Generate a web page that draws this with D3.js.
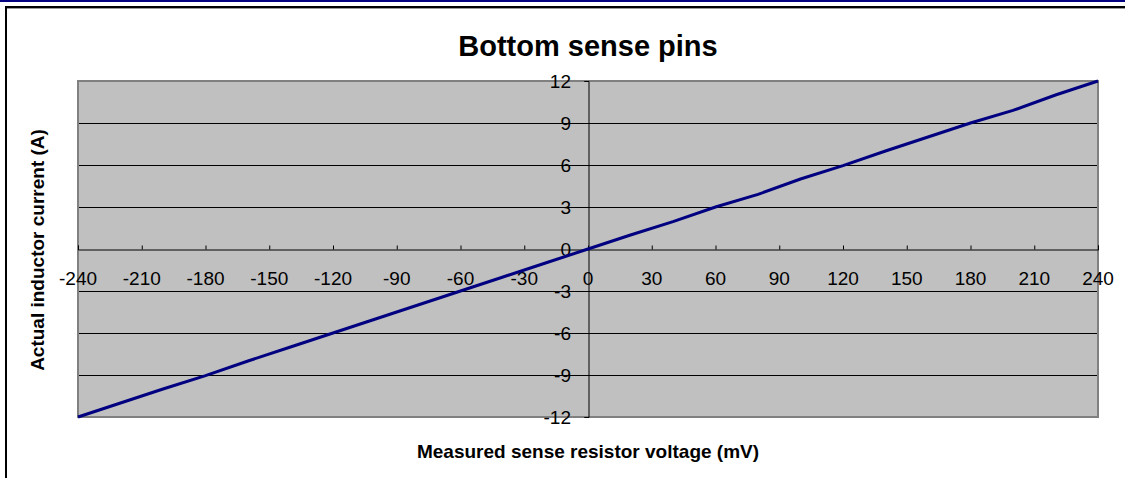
<!DOCTYPE html>
<html>
<head>
<meta charset="utf-8">
<script src="https://cdn.jsdelivr.net/npm/d3@7"></script>
<style>
  body { margin: 0; background: #fff; }
  svg { display: block; font-family: Arial, "Liberation Sans", sans-serif; }
</style>
</head>
<body>
<div id="viz-container"></div>
<script>
let voltage = [-240,-220,-200,-180,-160,-140,-120,-100,-80,-60,-40,-20,0,20,40,60,80,100,120,140,160,180,200,220,240];
let current = [-12,-11,-10,-9.05,-8,-7,-6,-5,-4,-3,-2,-1,0,1,1.95,3,3.9,5,5.95,7,8,9,9.9,11,12];

let xTicks = [-240,-210,-180,-150,-120,-90,-60,-30,0,30,60,90,120,150,180,210,240];
let yTicks = [-12,-9,-6,-3,0,3,6,9,12];

let W = 1125, H = 478;
let plotL = 78, plotR = 1098, plotT = 81, plotB = 417;

let viz = d3.select("#viz-container")
              .append("svg")
                .attr("width", W)
                .attr("height", H)
;

// top blue rule + chart frame (runs off the page on right and bottom)
viz.append("rect").attr("x", 0).attr("y", 0).attr("width", W).attr("height", 2).attr("fill", "#000080");
viz.append("rect").attr("x", 6).attr("y", 7).attr("width", W + 20).attr("height", H + 20)
   .attr("fill", "none").attr("stroke", "#000").attr("stroke-width", 2);
viz.append("line").attr("x1", 7).attr("x2", W).attr("y1", 8.5).attr("y2", 8.5)
   .attr("stroke", "#999").attr("stroke-width", 1);

let x = d3.scaleLinear().domain([-240, 240]).range([plotL, plotR]);
let y = d3.scaleLinear().domain([-12, 12]).range([plotB, plotT]);

// plot area
viz.append("rect")
   .attr("x", plotL).attr("y", plotT)
   .attr("width", plotR - plotL).attr("height", plotB - plotT)
   .attr("fill", "#c0c0c0");

// gridlines
viz.selectAll("line.grid").data(yTicks.filter(d => d != 12 && d != -12 && d != 0)).enter().append("line")
   .attr("class", "grid")
   .attr("x1", plotL).attr("x2", plotR)
   .attr("y1", d => y(d) + 0.5).attr("y2", d => y(d) + 0.5)
   .attr("stroke", "#000").attr("stroke-width", 1);

// plot border
viz.append("rect")
   .attr("x", plotL).attr("y", plotT)
   .attr("width", plotR - plotL).attr("height", plotB - plotT)
   .attr("fill", "none").attr("stroke", "#808080").attr("stroke-width", 2);

// x axis through y = 0, ticks pointing up
let xAxis = d3.axisTop(x).tickValues(xTicks).tickSize(4).tickFormat("");
let gx = viz.append("g").attr("transform", "translate(0," + (y(0) + 0.5) + ")").call(xAxis);
gx.select(".domain").attr("stroke", "#000");
gx.selectAll(".tick line").attr("stroke", "#000");

viz.selectAll("text.xlab").data(xTicks).enter().append("text")
   .attr("class", "xlab")
   .attr("x", d => x(d))
   .attr("y", y(0) + 36)
   .attr("text-anchor", "middle")
   .attr("font-size", 19)
   .text(d => d);

// y axis through x = 0, ticks pointing left
let yAxis = d3.axisLeft(y).tickValues(yTicks).tickSize(4).tickFormat("");
let gy = viz.append("g").attr("transform", "translate(" + (x(0) + 0.5) + ",0)").call(yAxis);
gy.select(".domain").attr("stroke", "#000");
gy.selectAll(".tick line").attr("stroke", "#000");

viz.selectAll("text.ylab").data(yTicks).enter().append("text")
   .attr("class", "ylab")
   .attr("x", x(0) - 17)
   .attr("y", d => y(d) + 7)
   .attr("text-anchor", "end")
   .attr("font-size", 19)
   .text(d => d);

// the series
let line = d3.line().x((d, i) => x(voltage[i])).y(d => y(d));
viz.append("path")
   .datum(current)
   .attr("d", line)
   .attr("fill", "none")
   .attr("stroke", "#000080")
   .attr("stroke-width", 3);

// titles
viz.append("text").attr("x", 588).attr("y", 56).attr("text-anchor", "middle")
   .attr("font-size", 29).attr("font-weight", "bold").text("Bottom sense pins");

viz.append("text").attr("x", 588).attr("y", 458).attr("text-anchor", "middle")
   .attr("font-size", 19).attr("font-weight", "bold").text("Measured sense resistor voltage (mV)");

viz.append("text").attr("transform", "translate(44,250) rotate(-90)").attr("text-anchor", "middle")
   .attr("font-size", 19).attr("font-weight", "bold").text("Actual inductor current (A)");
</script>
</body>
</html>
